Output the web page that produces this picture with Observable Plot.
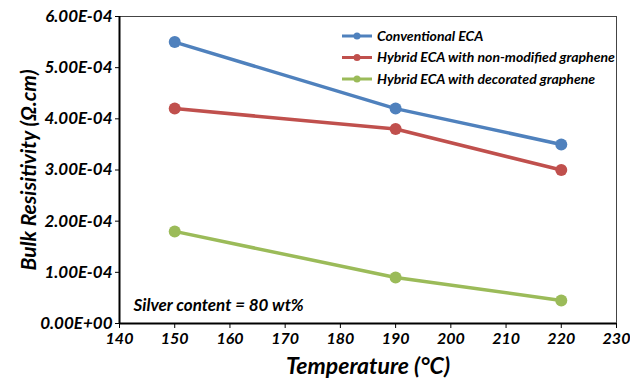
<!DOCTYPE html>
<html><head><meta charset="utf-8">
<script src="https://cdn.jsdelivr.net/npm/d3@7"></script>
<script src="https://cdn.jsdelivr.net/npm/@observablehq/plot@0.6"></script>
<style>body{margin:0;background:#fff}</style>
</head><body><div id="chart"></div>
<script>
const temperatures = [150, 190, 220];
const seriesNames = ["Conventional ECA", "Hybrid ECA with non-modified graphene", "Hybrid ECA with decorated graphene"];
const conventional = [5.5e-4, 4.2e-4, 3.5e-4];
const nonModified = [4.2e-4, 3.8e-4, 3.0e-4];
const decorated = [1.8e-4, 0.9e-4, 0.45e-4];
const colors = ["#4F81BD", "#C0504D", "#9BBB59"];
const xTicks = [140, 150, 160, 170, 180, 190, 200, 210, 220, 230];
const yTicks = [0, 1e-4, 2e-4, 3e-4, 4e-4, 5e-4, 6e-4];

const allSeries = [conventional, nonModified, decorated];
const data = allSeries.flatMap((vals, i) => vals.map((v, j) => ({series: seriesNames[i], x: temperatures[j], y: v})));

function fmtE(d) {
  if (d === 0) return "0.00E+00";
  const [m, e] = d.toExponential(2).split("e");
  const n = Math.abs(+e);
  return m + "E" + (+e < 0 ? "-" : "+") + String(n).padStart(2, "0");
}

const font = "Lato, 'Open Sans', sans-serif";
const chart = Plot.plot({
  width: 630, height: 381,
  marginLeft: 119, marginRight: 14, marginTop: 16, marginBottom: 58,
  style: {fontFamily: font, fontStyle: "italic", fontWeight: "bold", fontSize: "15px", color: "#000", background: "#fff"},
  x: {domain: [140, 230]},
  y: {domain: [0, 6e-4]},
  color: {domain: seriesNames, range: colors},
  marks: [
    Plot.frame({stroke: "#444", strokeWidth: 1}),
    Plot.axisX({ticks: xTicks, tickSize: 5, tickPadding: 4, fontSize: 16, label: "Temperature (°C)", labelAnchor: "center", labelOffset: 50, labelArrow: "none"}),
    Plot.axisY({ticks: yTicks, tickSize: 4, tickPadding: 3, tickFormat: fmtE, fontSize: 17, label: "Bulk Resisitivity (Ω.cm)", labelAnchor: "center", labelOffset: 98, labelArrow: "none"}),
    Plot.ruleX([140], {stroke: "#000", strokeWidth: 2}),
    Plot.ruleY([0], {stroke: "#000", strokeWidth: 2}),
    Plot.line(data, {x: "x", y: "y", z: "series", stroke: "series", strokeWidth: 3.5}),
    Plot.dot(data, {x: "x", y: "y", fill: "series", r: 6}),
    Plot.text(["Silver content = 80 wt%"], {frameAnchor: "bottom-left", dx: 14, dy: -13, fontSize: 17, textAnchor: "start"})
  ]
});
const svg = d3.select(chart);
svg.select("[aria-label='x-axis label'] text").style("font-size", "23px");
svg.select("[aria-label='y-axis label'] text").style("font-size", "21px");
svg.selectAll("[aria-label='y-axis tick label'] text").style("font-size", "17px");
svg.selectAll("[aria-label='x-axis tick label'] text").style("font-size", "16px");
// legend
const lg = svg.append("g").attr("font-size", 14).attr("font-style", "italic").attr("font-weight", "bold").attr("text-anchor", "start");
seriesNames.forEach((name, i) => {
  const yy = 36 + i * 21.5;
  lg.append("line").attr("x1", 342).attr("x2", 372).attr("y1", yy).attr("y2", yy).attr("stroke", colors[i]).attr("stroke-width", 3);
  lg.append("circle").attr("cx", 357).attr("cy", yy).attr("r", 3.5).attr("fill", colors[i]);
  lg.append("text").attr("x", 377).attr("y", yy).attr("dy", "0.35em").attr("text-anchor", "start").text(name);
});
document.getElementById("chart").appendChild(chart);
</script></body></html>
